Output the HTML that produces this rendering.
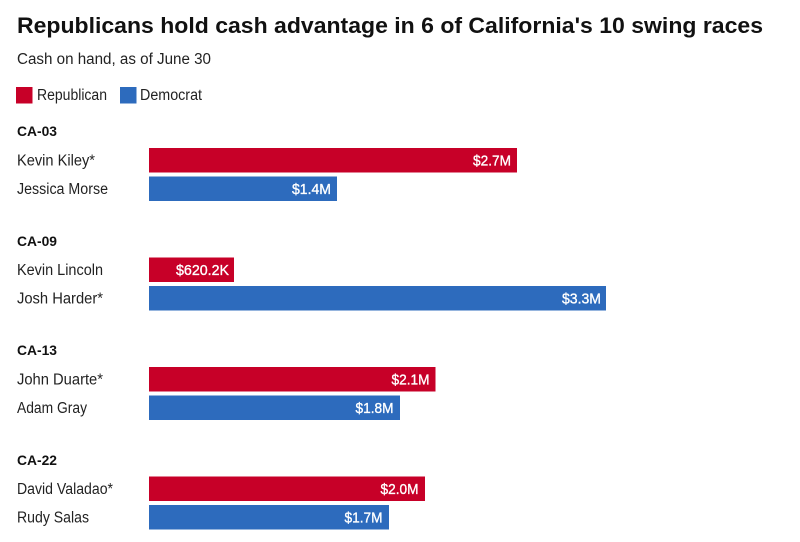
<!DOCTYPE html>
<html>
<head>
<meta charset="utf-8">
<style>
  html, body { margin: 0; padding: 0; background: #ffffff; }
  svg { display: block; }
  text { font-family: "Liberation Sans", "DejaVu Sans", sans-serif; }
  .title { font-size: 22.5px; font-weight: bold; fill: #111; }
  .sub { font-size: 15.5px; fill: #222; }
  .leg { font-size: 15.5px; fill: #222; }
  .hdr { font-size: 13.5px; font-weight: bold; fill: #111; }
  .name { font-size: 15.5px; fill: #222; }
  .val { font-size: 15px; fill: #fff; stroke: #fff; stroke-width: 0.35px; }
</style>
</head>
<body>
<svg width="800" height="542" viewBox="0 0 800 542" xmlns="http://www.w3.org/2000/svg">
  <rect x="0" y="0" width="800" height="542" fill="#fff"/>
  <text class="title" x="17" y="33" textLength="746" lengthAdjust="spacingAndGlyphs">Republicans hold cash advantage in 6 of California's 10 swing races</text>
  <text class="sub" x="17" y="64" textLength="194" lengthAdjust="spacingAndGlyphs">Cash on hand, as of June 30</text>

  <rect x="16" y="87" width="16.5" height="16.5" fill="#c70028"/>
  <text class="leg" x="37" y="100" textLength="70" lengthAdjust="spacingAndGlyphs">Republican</text>
  <rect x="120" y="87" width="16.5" height="16.5" fill="#2d6bbd"/>
  <text class="leg" x="140" y="100" textLength="62" lengthAdjust="spacingAndGlyphs">Democrat</text>

  <!-- CA-03 -->
  <text class="hdr" x="17" y="136" textLength="40" lengthAdjust="spacingAndGlyphs">CA-03</text>
  <text class="name" x="17" y="165.5" textLength="78" lengthAdjust="spacingAndGlyphs">Kevin Kiley*</text>
  <rect x="149" y="148" width="368" height="24.5" fill="#c70028"/>
  <text class="val" x="511" y="165.5" text-anchor="end" textLength="38" lengthAdjust="spacingAndGlyphs">$2.7M</text>
  <text class="name" x="17" y="194" textLength="91" lengthAdjust="spacingAndGlyphs">Jessica Morse</text>
  <rect x="149" y="176.5" width="188" height="24.5" fill="#2d6bbd"/>
  <text class="val" x="331" y="194" text-anchor="end" textLength="39" lengthAdjust="spacingAndGlyphs">$1.4M</text>

  <!-- CA-09 -->
  <text class="hdr" x="17" y="246" textLength="40" lengthAdjust="spacingAndGlyphs">CA-09</text>
  <text class="name" x="17" y="275" textLength="86" lengthAdjust="spacingAndGlyphs">Kevin Lincoln</text>
  <rect x="149" y="257.5" width="85" height="24.5" fill="#c70028"/>
  <text class="val" x="229" y="275" text-anchor="end" textLength="53" lengthAdjust="spacingAndGlyphs">$620.2K</text>
  <text class="name" x="17" y="303.5" textLength="86" lengthAdjust="spacingAndGlyphs">Josh Harder*</text>
  <rect x="149" y="286" width="457" height="24.5" fill="#2d6bbd"/>
  <text class="val" x="601" y="303.5" text-anchor="end" textLength="39" lengthAdjust="spacingAndGlyphs">$3.3M</text>

  <!-- CA-13 -->
  <text class="hdr" x="17" y="355" textLength="40" lengthAdjust="spacingAndGlyphs">CA-13</text>
  <text class="name" x="17" y="384.5" textLength="86" lengthAdjust="spacingAndGlyphs">John Duarte*</text>
  <rect x="149" y="367" width="286.5" height="24.5" fill="#c70028"/>
  <text class="val" x="429.5" y="384.5" text-anchor="end" textLength="38" lengthAdjust="spacingAndGlyphs">$2.1M</text>
  <text class="name" x="17" y="413" textLength="70" lengthAdjust="spacingAndGlyphs">Adam Gray</text>
  <rect x="149" y="395.5" width="251" height="24.5" fill="#2d6bbd"/>
  <text class="val" x="393.5" y="413" text-anchor="end" textLength="38" lengthAdjust="spacingAndGlyphs">$1.8M</text>

  <!-- CA-22 -->
  <text class="hdr" x="17" y="465" textLength="40" lengthAdjust="spacingAndGlyphs">CA-22</text>
  <text class="name" x="17" y="494" textLength="96" lengthAdjust="spacingAndGlyphs">David Valadao*</text>
  <rect x="149" y="476.5" width="276" height="24.5" fill="#c70028"/>
  <text class="val" x="418.5" y="494" text-anchor="end" textLength="38" lengthAdjust="spacingAndGlyphs">$2.0M</text>
  <text class="name" x="17" y="522.5" textLength="72" lengthAdjust="spacingAndGlyphs">Rudy Salas</text>
  <rect x="149" y="505" width="240" height="24.5" fill="#2d6bbd"/>
  <text class="val" x="382.5" y="522.5" text-anchor="end" textLength="38" lengthAdjust="spacingAndGlyphs">$1.7M</text>
</svg>
</body>
</html>
